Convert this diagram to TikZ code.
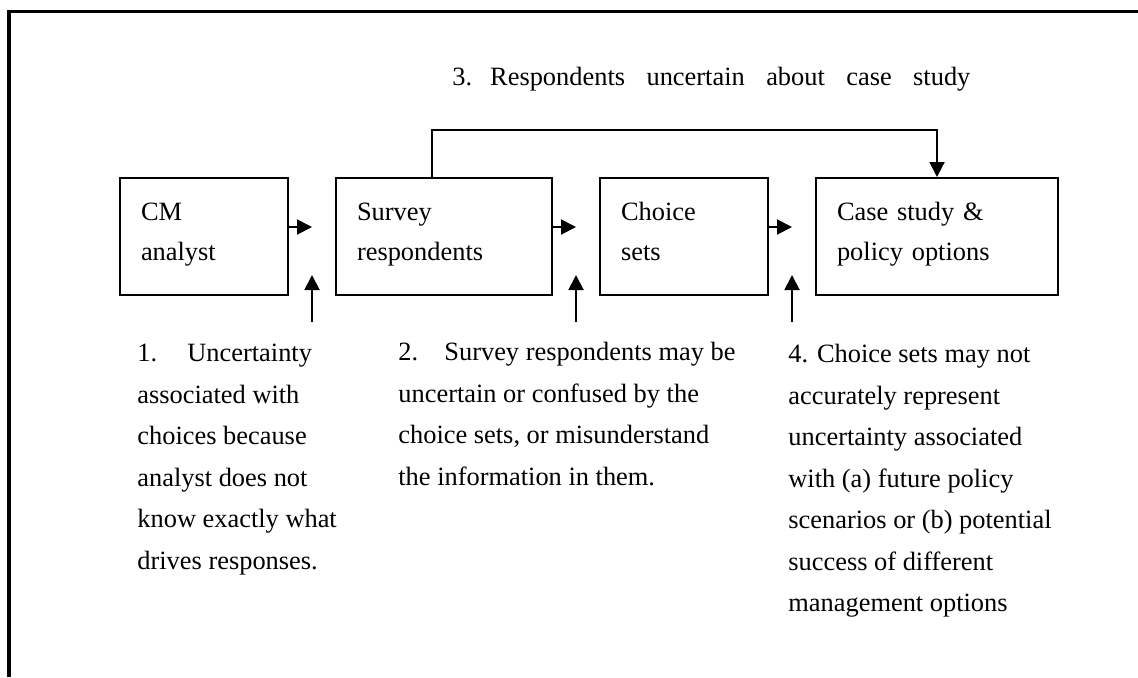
\documentclass[tikz,border=0pt]{standalone}
\usepackage{fontspec}
\setmainfont{Liberation Serif}
\usetikzlibrary{arrows.meta}
\newcommand\boxfont{\fontsize{13.2}{20}\selectfont}
\newcommand\notefont{\fontsize{13.2}{20.75}\selectfont}
\newcommand\topstrut{\rule{0pt}{10.5pt}}
\newcommand\botstrut{\rule[-7pt]{0pt}{7pt}}
\tikzset{
  box/.style={draw, line width=1pt, minimum height=58.5pt, inner xsep=10.5pt, inner ysep=0pt, align=left, font=\boxfont},
  note/.style={anchor=north west, inner sep=0pt, align=left, font=\notefont},
  arr/.style={-{Triangle[length=7.5pt,width=7.5pt]}, line width=1pt},
  frame/.style={line width=1.7pt}
}
\begin{document}
\begin{tikzpicture}[x=0.5pt,y=-0.5pt]
\useasboundingbox (0,0) rectangle (1138,677);
\draw[frame] (9,677) -- (9,11.5) -- (1138,11.5);
\node[box, text width=63pt] (cm) at (204,236.5) {\topstrut CM\\analyst\botstrut};
\node[box, text width=87pt] (sr) at (444,236.5) {\topstrut Survey\\respondents\botstrut};
\node[box, text width=63pt] (ch) at (684,236.5) {\topstrut Choice\\sets\botstrut};
\node[box, text width=100pt] (cs) at (937,236.5) {\topstrut\makebox[100pt][s]{Case study \&}\\policy options\botstrut};
\coordinate (h1) at (312,227);
\coordinate (h2) at (576,227);
\coordinate (h3) at (792,227);
\draw[arr] (cm.east |- h1) -- (h1);
\draw[arr] (sr.east |- h2) -- (h2);
\draw[arr] (ch.east |- h3) -- (h3);
\coordinate (v1) at (312,322);
\coordinate (w1) at (312,275);
\coordinate (v2) at (576,322);
\coordinate (w2) at (576,275);
\coordinate (v3) at (792,322);
\coordinate (w3) at (792,275);
\draw[arr] (v1) -- (w1);
\draw[arr] (v2) -- (w2);
\draw[arr] (v3) -- (w3);
\coordinate (t1) at (432,130);
\draw[arr] (t1 |- sr.north) -- (t1) -| (cs.north);
\node[anchor=base west, inner sep=0pt, font=\notefont] (lab3) at (452,85) {\makebox[259pt][s]{3.\hspace{9pt}Respondents uncertain about case study}};
\node[note] (n1) at (137,344) {\makebox[25pt][l]{1.}Uncertainty\\associated with\\choices because\\analyst does not\\know exactly what\\drives responses.};
\node[note] (n2) at (398,342) {\makebox[23pt][l]{2.}Survey respondents may be\\uncertain or confused by the\\choice sets, or misunderstand\\the information in them.};
\node[note] (n4) at (788,344) {4. Choice sets may not\\accurately represent\\uncertainty associated\\with (a) future policy\\scenarios or (b) potential\\success of different\\management options};
\end{tikzpicture}
\end{document}
